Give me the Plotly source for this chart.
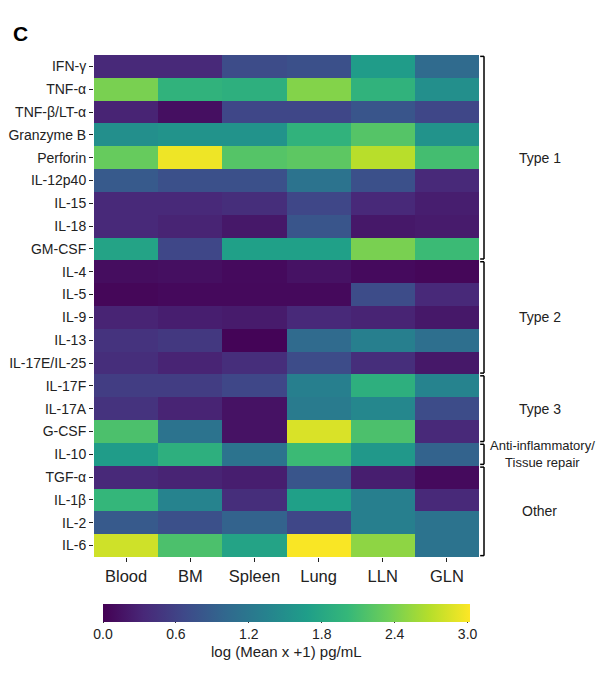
import plotly.graph_objects as go

tissues = ["Blood", "BM", "Spleen", "Lung", "LLN", "GLN"]
cytokines = ["IFN-γ", "TNF-α", "TNF-β/LT-α", "Granzyme B", "Perforin", "IL-12p40",
             "IL-15", "IL-18", "GM-CSF", "IL-4", "IL-5", "IL-9", "IL-13",
             "IL-17E/IL-25", "IL-17F", "IL-17A", "G-CSF", "IL-10", "TGF-α",
             "IL-1β", "IL-2", "IL-6"]

# log (Mean x +1) pg/mL, rows = cytokines, columns = tissues
values = [
    [0.35, 0.35, 0.70, 0.75, 1.65, 1.05],
    [2.40, 1.95, 1.90, 2.45, 1.95, 1.50],
    [0.30, 0.12, 0.65, 0.65, 0.80, 0.65],
    [1.50, 1.55, 1.55, 1.95, 2.20, 1.55],
    [2.30, 2.95, 2.20, 2.25, 2.70, 2.10],
    [0.85, 0.75, 0.75, 1.15, 0.75, 0.35],
    [0.35, 0.35, 0.40, 0.65, 0.35, 0.25],
    [0.35, 0.30, 0.20, 0.80, 0.20, 0.22],
    [1.75, 0.65, 1.70, 1.70, 2.40, 2.05],
    [0.10, 0.12, 0.08, 0.15, 0.08, 0.05],
    [0.05, 0.07, 0.07, 0.07, 0.70, 0.35],
    [0.30, 0.25, 0.22, 0.35, 0.30, 0.20],
    [0.45, 0.50, 0.03, 1.05, 1.30, 1.10],
    [0.40, 0.30, 0.40, 0.70, 0.40, 0.20],
    [0.55, 0.55, 0.65, 1.30, 1.90, 1.35],
    [0.45, 0.30, 0.15, 1.25, 1.40, 0.70],
    [2.15, 1.15, 0.15, 2.85, 2.15, 0.35],
    [1.65, 1.90, 1.15, 2.05, 1.60, 0.95],
    [0.35, 0.30, 0.25, 0.80, 0.25, 0.08],
    [2.00, 1.35, 0.40, 1.70, 1.30, 0.35],
    [0.85, 0.75, 0.95, 0.65, 1.30, 1.15],
    [2.80, 2.15, 1.75, 3.00, 2.50, 1.15],
]

groups = ["Type 1", "Type 2", "Type 3", "Anti-inflammatory/<br>Tissue repair", "Other"]
group_sizes = [9, 5, 3, 1, 4]

colorbar_ticks = [0.0, 0.6, 1.2, 1.8, 2.4, 3.0]
colorbar_title = "log (Mean x +1) pg/mL"

FONT = "Arial, Liberation Sans, sans-serif"

fig = go.Figure(go.Heatmap(
    z=values, x=tissues, y=cytokines,
    colorscale="Viridis", zmin=0, zmax=3.02,
    colorbar=dict(
        orientation="h", x=0.0234, xanchor="left", y=-0.094, yanchor="top",
        len=0.953, lenmode="fraction", thickness=18, outlinewidth=0,
        xpad=0, ypad=0,
        tickvals=colorbar_ticks, ticktext=[f"{t:.1f}" for t in colorbar_ticks],
        ticks="outside", ticklen=1, tickcolor="#333",
        tickfont=dict(size=14, color="#222", family=FONT),
    ),
))

fig.update_layout(
    width=599, height=672,
    margin=dict(l=86, r=128, t=47, b=123, autoexpand=False),
    paper_bgcolor="white", plot_bgcolor="white",
    font=dict(family=FONT, color="#222"),
    xaxis=dict(ticks="outside", ticklen=4, tickcolor="#222", showgrid=False, automargin=False,
               tickfont=dict(size=16.5, color="#222"), zeroline=False),
    yaxis=dict(autorange="reversed", ticks="outside", ticklen=4, tickcolor="#222", automargin=False,
               showgrid=False, tickfont=dict(size=14, color="#222"), zeroline=False),
)

shapes = []
annotations = []
start = 0
gap = 0.06
x_line = 1.013
x_tick = 1.003
for name, n in zip(groups, group_sizes):
    y0 = start - 0.5 + gap
    y1 = start + n - 0.5 - gap
    line = dict(color="black", width=1.5)
    shapes.append(dict(type="line", xref="paper", yref="y", x0=x_line, x1=x_line, y0=y0, y1=y1, line=line))
    shapes.append(dict(type="line", xref="paper", yref="y", x0=x_tick, x1=x_line, y0=y0, y1=y0, line=line))
    shapes.append(dict(type="line", xref="paper", yref="y", x0=x_tick, x1=x_line, y0=y1, y1=y1, line=line))
    xc = 1.166 if n == 1 else 1.158
    annotations.append(dict(xref="paper", yref="y", x=xc, y=start + (n - 1) / 2,
                            text=name, showarrow=False, xanchor="center", yanchor="middle",
                            font=dict(size=14 if n > 1 else 13, color="#222", family=FONT)))
    start += n

annotations.append(dict(xref="paper", yref="paper", x=0.5, y=-0.189, xanchor="center", yanchor="middle",
                        text=colorbar_title, showarrow=False,
                        font=dict(size=15, color="#222", family=FONT)))
annotations.append(dict(xref="paper", yref="paper", x=-0.215, y=1.015, xanchor="left", yanchor="bottom",
                        text="<b>C</b>", showarrow=False,
                        font=dict(size=21, color="black", family=FONT)))

fig.update_layout(shapes=shapes, annotations=annotations)
fig.write_html("out.html")
